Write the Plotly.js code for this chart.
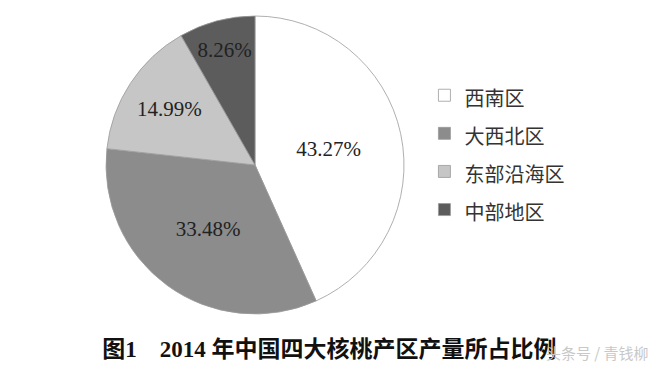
<!DOCTYPE html>
<html>
<head>
<meta charset="utf-8">
<script src="https://cdn.plot.ly/plotly-3.0.1.min.js"></script>
<style>html,body{margin:0;padding:0;background:#fff;}#chart{width:656px;height:367px;}</style>
</head>
<body>
<div id="chart"></div>
<script>
const regions = ["西南区", "大西北区", "东部沿海区", "中部地区"];
const shares = [43.27, 33.48, 14.99, 8.26];
const sliceColors = ["#ffffff", "#8c8c8c", "#c6c6c6", "#5c5c5c"];
const chartTitle = "图1　2014 年中国四大核桃产区产量所占比例";
const watermark = "头条号 / 青钱柳";

const W = 656, H = 367;
const cx = 255, cy = 165, r = 149;

const trace = {
  type: "pie",
  labels: regions.map(s => '<span style="font-size:20px">' + s + '</span>'),
  values: shares,
  sort: false,
  direction: "clockwise",
  rotation: 0,
  marker: {colors: sliceColors, line: {color: "#9a9a9a", width: 0.8}},
  texttemplate: "%{value:.2f}%",
  textposition: "inside",
  insidetextorientation: "horizontal",
  textfont: {family: "Liberation Serif, serif", size: 21, color: "#222"},
  hoverinfo: "none",
  domain: {x: [(cx - r) / W, (cx + r) / W], y: [(H - cy - r) / H, (H - cy + r) / H]}
};

const layout = {
  width: W, height: H,
  margin: {l: 0, r: 0, t: 0, b: 0},
  paper_bgcolor: "#fff",
  showlegend: true,
  legend: {
    x: 0.647, xanchor: "left", y: 0.806, yanchor: "top",
    font: {family: "Noto Sans CJK SC", size: 27, color: "#333"},
    bgcolor: "rgba(0,0,0,0)"
  },
  title: {
    text: "<b>" + chartTitle + "</b>",
    x: 0.502, xanchor: "center", xref: "paper",
    y: 0.048, yanchor: "middle", yref: "paper",
    font: {family: "Liberation Serif, Noto Sans CJK SC", size: 23, color: "#111"}
  },
  annotations: [{
    text: watermark, xref: "paper", yref: "paper",
    x: 0.993, y: 0.04, xanchor: "right", yanchor: "middle", showarrow: false,
    font: {family: "Noto Sans CJK SC", size: 15, color: "#c8c8c8"}
  }]
};

Plotly.newPlot("chart", [trace], layout, {displayModeBar: false, staticPlot: true});
</script>
</body>
</html>
